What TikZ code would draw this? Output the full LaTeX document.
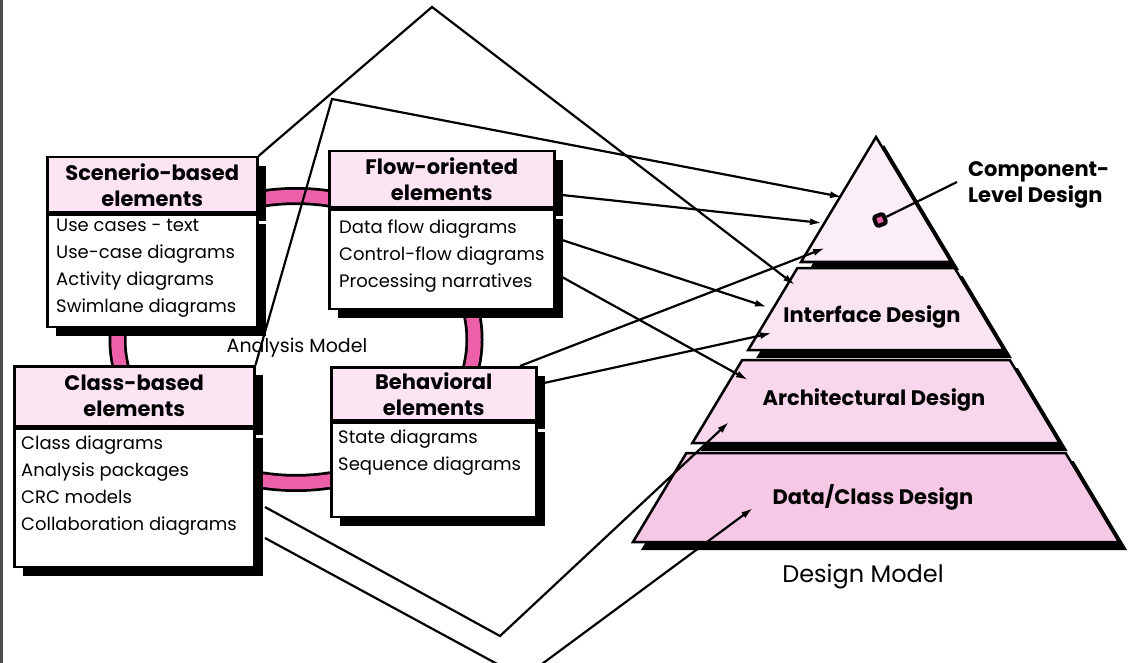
\documentclass[tikz,border=0pt]{standalone}
\usepackage{fontspec}
\setmainfont{Poppins}
\usetikzlibrary{arrows.meta,shadows,positioning}

\definecolor{headpink}{RGB}{252,228,242}
\definecolor{ringpink}{RGB}{236,96,170}
\definecolor{layerA}{RGB}{252,238,247}
\definecolor{layerB}{RGB}{250,228,242}
\definecolor{layerC}{RGB}{248,214,235}
\definecolor{layerD}{RGB}{246,200,229}

\tikzset{
  boxshadow/.style={drop shadow={shadow xshift=9pt, shadow yshift=-9pt, fill=black, opacity=1}},
  head/.style={draw, line width=2.5pt, fill=headpink, align=center, anchor=north west,
    font=\bfseries\fontsize{21}{26}\selectfont, boxshadow},
  body/.style={draw, line width=2.5pt, fill=white, anchor=north west, boxshadow},
  list/.style={align=left, anchor=north west, font=\fontsize{18}{27}\selectfont},
  layername/.style={font=\bfseries\fontsize{21}{26}\selectfont},
  conn/.style={line width=2.2pt, -{Latex[length=12pt,width=7pt]}},
}

\begin{document}
\begin{tikzpicture}[x=1pt, y=-1pt,
                    every node/.style={inner sep=0pt}]
      \useasboundingbox (0,0) rectangle (1138,663);
      \fill[black!70] (0,0) rectangle (2.5,663);
      % analysis ring behind the boxes
      \draw[line width=18pt] (296,339.5) ellipse [x radius=178.5, y radius=143.5];
      \draw[ringpink, line width=12.5pt] (296,339.5) ellipse [x radius=178.5, y radius=143.5];
      % analysis model
      \node[head, minimum width=210pt, minimum height=55pt] (scen) at (46,156) {Scenerio-based\\elements};
      \node[body, minimum width=210pt, minimum height=112pt] (scen-b) at (scen.south west) {};
      \node[list] (scen-l) at (56,219) {Use cases - text\\Use-case diagrams\\Activity diagrams\\Swimlane diagrams};
      \node[head, minimum width=225pt, minimum height=56pt] (flow) at (328,150) {Flow-oriented\\elements};
      \node[body, minimum width=225pt, minimum height=99pt] (flow-b) at (flow.south west) {};
      \node[list] (flow-l) at (339,220) {Data flow diagrams\\Control-flow diagrams\\Processing narratives};
      \node[head, minimum width=240pt, minimum height=60pt] (class) at (13,365) {Class-based\\elements};
      \node[body, minimum width=240pt, minimum height=138pt] (class-b) at (class.south west) {};
      \node[list] (class-l) at (21,436) {Class diagrams\\Analysis packages\\CRC models\\Collaboration diagrams};
      \node[head, minimum width=205pt, minimum height=53pt] (behav) at (330,366) {Behavioral\\elements};
      \node[body, minimum width=205pt, minimum height=94pt] (behav-b) at (behav.south west) {};
      \node[list] (behav-l) at (338,430) {State diagrams\\Sequence diagrams};
      \node[font=\fontsize{19}{24}\selectfont] (analysis) at (297,348) {Analysis Model};
      % design model
      \foreach \ya/\yb/\col in {137/262/layerA, 268/350/layerB, 360/443/layerC, 453/542/layerD} {
        \fill[black, shift={(8,8)}] ({876-0.6*(\ya-137)},\ya) -- ({876+0.6*(\ya-137)},\ya)
          -- ({876+0.6*(\yb-137)},\yb) -- ({876-0.6*(\yb-137)},\yb) -- cycle;
        \draw[line width=2.5pt, fill=\col] ({876-0.6*(\ya-137)},\ya) -- ({876+0.6*(\ya-137)},\ya)
          -- ({876+0.6*(\yb-137)},\yb) -- ({876-0.6*(\yb-137)},\yb) -- cycle;
      }
      \node[layername] (iface) at (872,317) {Interface Design};
      \node[layername] (arch) at (874,400) {Architectural Design};
      \node[layername] (data) at (873,497) {Data/Class Design};
      \node[layername, align=left, anchor=west] (comp) at (968,185) {Component-\\Level Design};
      \node[draw=black, line width=4pt, fill=ringpink, rounded corners=2.5pt, minimum size=10pt, rotate=20] (cmark) at (880,220) {};
      \coordinate (clead) at (957,182);
      \draw[line width=2.2pt] (cmark) -- (clead);
      \node[font=\fontsize{24}{28}\selectfont] (design) at (863,577) {Design Model};
      % bends and arrow ends
      \coordinate (apex) at (432,7);
      \coordinate (bend) at (332,99);
      \coordinate (f1) at (562,195);
      \coordinate (f2) at (562,240);
      \coordinate (f3) at (562,277);
      \coordinate (b1) at (520,366);
      \coordinate (b2) at (544,383);
      \coordinate (c1) at (265,507);
      \coordinate (c2) at (265,538);
      \coordinate (c1v) at (500,636);
      \coordinate (c2v) at (523,678);
      \coordinate (comp-in1) at (842,197);
      \coordinate (comp-in2) at (822,223);
      \coordinate (comp-in3) at (825,248);
      \coordinate (iface-in1) at (795,285);
      \coordinate (iface-in2) at (767,307);
      \coordinate (iface-in3) at (772,333);
      \coordinate (arch-in1) at (748,380);
      \coordinate (arch-in2) at (729,422);
      \coordinate (data-in) at (753,508);
      \draw[conn] (scen.north east) -- (apex) -- (iface-in1);
      \draw[conn] (class.north east) -- (bend) -- (comp-in1);
      \draw[conn] (f1) -- (comp-in2);
      \draw[conn] (f2) -- (iface-in2);
      \draw[conn] (f3) -- (arch-in1);
      \draw[conn] (b1) -- (comp-in3);
      \draw[conn] (b2) -- (iface-in3);
      \draw[conn] (c1) -- (c1v) -- (arch-in2);
      \draw[conn] (c2) -- (c2v) -- (data-in);
    \end{tikzpicture}
\end{document}
